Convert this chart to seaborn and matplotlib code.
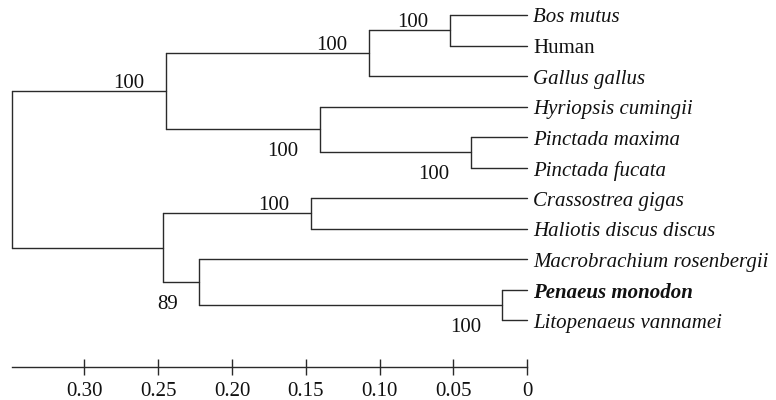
import numpy as np
import pandas as pd
import matplotlib
matplotlib.use("Agg")
import matplotlib.pyplot as plt
import seaborn as sns

# ---------------- data ----------------
leaves = ["Bos mutus", "Human", "Gallus gallus", "Hyriopsis cumingii",
          "Pinctada maxima", "Pinctada fucata", "Crassostrea gigas",
          "Haliotis discus discus", "Macrobrachium rosenbergii",
          "Penaeus monodon", "Litopenaeus vannamei"]
# internal nodes (ids start after leaves): children ids
node_children = [(0, 1), (11, 2), (4, 5), (3, 13), (12, 14),
                 (9, 10), (8, 16), (6, 7), (18, 17), (15, 19)]
node_heights = [0.0524, 0.1073, 0.0383, 0.1404, 0.2448,
                0.0169, 0.2222, 0.1465, 0.2468, 0.3491]
node_support = [100, 100, 100, 100, 100, 100, 89, 100, None, None]
tick_values = [0.30, 0.25, 0.20, 0.15, 0.10, 0.05, 0.0]
tick_labels = ["0.30", "0.25", "0.20", "0.15", "0.10", "0.05", "0"]

# ---------------- style ----------------
support_side = ["above", "above", "below", "below", "above",
                "below", "below", "above", None, None]
bold_leaves = {"Penaeus monodon"}
plain_leaves = {"Human"}
line_color = "#2a2a2a"
fs = 15

sns.set_style("white")
plt.rcParams["font.family"] = ["Liberation Serif", "DejaVu Serif"]

# ---------------- geometry ----------------
n_leaf = len(leaves)
xpos = {i: 0.0 for i in range(n_leaf)}
ypos = {i: float(i) for i in range(n_leaf)}
for k, (a, b) in enumerate(node_children):
    nid = n_leaf + k
    xpos[nid] = node_heights[k]
    ypos[nid] = (ypos[a] + ypos[b]) / 2

rows = []
seg = 0
for k, (a, b) in enumerate(node_children):
    nid = n_leaf + k
    hp = xpos[nid]
    rows += [(seg, hp, ypos[a]), (seg, hp, ypos[b])]
    seg += 1
    for c in (a, b):
        rows += [(seg, hp, ypos[c]), (seg, xpos[c], ypos[c])]
        seg += 1
df = pd.DataFrame(rows, columns=["seg", "x", "y"])

fig = plt.figure(figsize=(7.76, 4.0), dpi=100)
ax = fig.add_axes([0, 0, 1, 1])
sns.lineplot(data=df, x="x", y="y", units="seg", estimator=None, sort=False,
             color=line_color, linewidth=1.0, ax=ax, legend=False)

ax.set_xlim(0.3572, -0.1685)
ax.set_ylim(12.61, -0.491)

for i, name in enumerate(leaves):
    style = "normal" if name in plain_leaves else "italic"
    weight = "bold" if name in bold_leaves else "normal"
    ax.annotate(name, xy=(0.0, ypos[i]), xytext=(6, -3),
                textcoords="offset pixels", ha="left", va="center",
                fontsize=fs, fontstyle=style, fontweight=weight,
                color="#111111")

for k, s in enumerate(node_support):
    if s is None:
        continue
    nid = n_leaf + k
    dy = 3 if support_side[k] == "above" else -27
    ax.annotate(str(s), xy=(xpos[nid], ypos[nid]), xytext=(-21.5, dy),
                textcoords="offset pixels", ha="right", va="baseline",
                fontsize=fs, color="#111111")

sns.despine(ax=ax, left=True, top=True, right=True)
ax.spines["bottom"].set_position(("data", 11.513))
ax.spines["bottom"].set_bounds(0.349, 0.0)
ax.spines["bottom"].set_color(line_color)
ax.spines["bottom"].set_linewidth(1.0)
ax.set_xticks(tick_values)
ax.set_xticklabels(tick_labels, fontsize=fs, color="#111111")
ax.tick_params(axis="x", direction="inout", length=12, width=1.0,
               color=line_color, pad=5, bottom=True)
ax.set_yticks([])
ax.set_xlabel("")
ax.set_ylabel("")
ax.patch.set_alpha(0)

fig.savefig("out.png", dpi=100, facecolor="white")
